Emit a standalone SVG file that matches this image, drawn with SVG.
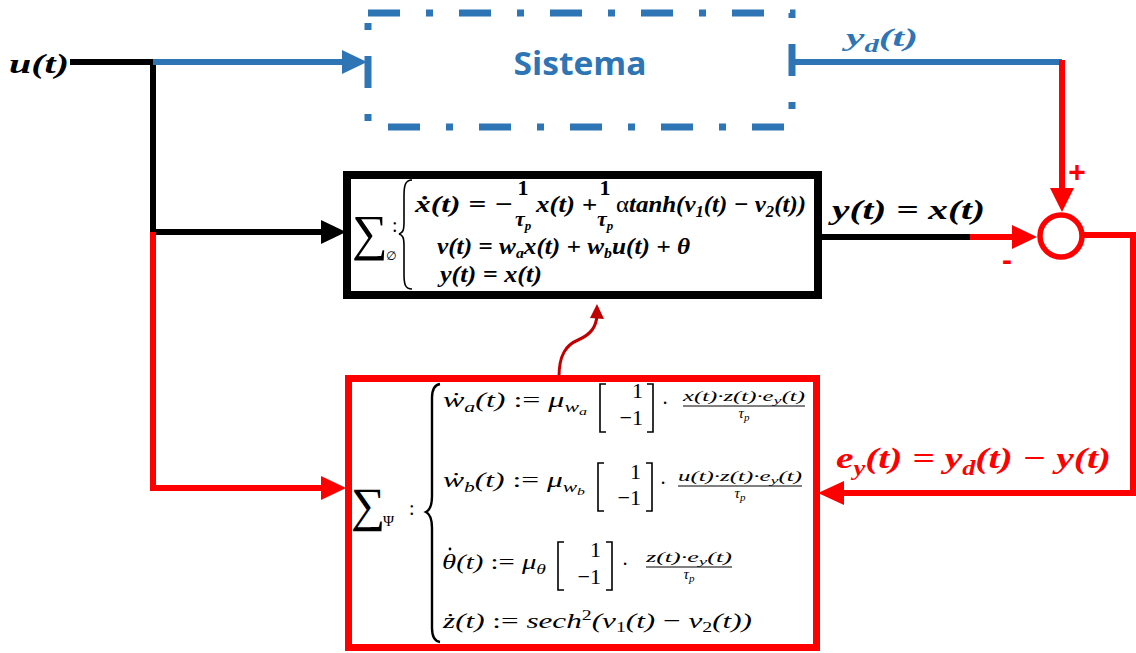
<svg xmlns="http://www.w3.org/2000/svg" width="1136" height="653" viewBox="0 0 1136 653">
<defs>
<style>
.bm{font-family:"Liberation Serif","DejaVu Serif",serif;font-weight:bold;font-style:italic;}
.lm{font-family:"Liberation Serif","DejaVu Serif",serif;font-style:italic;fill:#000;}
.up{font-style:normal;}
.num{font-family:"Liberation Serif","DejaVu Serif",serif;font-weight:bold;font-style:normal;}
.blk{stroke:#000;stroke-width:6;fill:none;}
.red{stroke:#FF0000;stroke-width:6;fill:none;}
.blu{stroke:#2E75B6;stroke-width:6;fill:none;}
.br{stroke:#000;fill:none;}
.sig{font-family:"Liberation Serif","DejaVu Serif",serif;font-style:normal;}
</style>
</defs>
<rect width="1136" height="653" fill="#fff"/>

<g id="connectors">
  <polyline class="blk" points="70,62 153,62 153,232 325,232"/>
  <polygon points="321,220 346,232 321,244" fill="#000"/>
  <line class="blu" x1="153" y1="62" x2="345" y2="62"/>
  <polygon points="342,50 367,62 342,74" fill="#2E75B6"/>
  <polyline class="red" points="153,232 153,488 325,488"/>
  <polygon points="321,476 346,488 321,500" fill="#FF0000"/>
  <line class="blu" x1="793" y1="62" x2="1062" y2="62"/>
  <polyline class="red" points="1062,60 1062,192"/>
  <polygon points="1050,188 1062,212 1074,188" fill="#FF0000"/>
  <line class="blk" x1="822" y1="237" x2="972" y2="237"/>
  <line class="red" x1="970" y1="237" x2="1016" y2="237"/>
  <polygon points="1012,225 1037,237 1012,249" fill="#FF0000"/>
  <polyline class="red" points="1083,235 1133,235 1133,493 842,493"/>
  <polygon points="844,481 818,493 844,505" fill="#FF0000"/>
  <path d="M559,377 C559,355 566,345 578,340 C592,334 596,326 597,316" stroke="#C00000" stroke-width="3" fill="none"/>
  <polygon points="597,304 590,318 604,319" fill="#C00000"/>
</g>

<g id="sistema">
  <rect x="368" y="13" width="424" height="114" fill="none" stroke="#2E75B6" stroke-width="7" stroke-dasharray="32 26 7 26"/>
  <text x="580" y="75" text-anchor="middle" font-family="'Open Sans','Liberation Sans',sans-serif" font-weight="bold" font-size="33" fill="#2E75B6" textLength="133" lengthAdjust="spacingAndGlyphs">Sistema</text>
</g>

<g id="sum">
  <circle cx="1061" cy="236" r="21" fill="#fff" stroke="#FF0000" stroke-width="5.5"/>
  <text x="1077" y="182" text-anchor="middle" font-family="'Liberation Sans',sans-serif" font-weight="bold" font-size="30" fill="#FF0000">+</text>
  <text x="1007" y="270" text-anchor="middle" font-family="'Liberation Sans',sans-serif" font-weight="bold" font-size="30" fill="#FF0000">-</text>
</g>

<g id="labels">
  <text class="bm" x="9" y="73" font-size="28" textLength="60" lengthAdjust="spacingAndGlyphs">u(t)</text>
  <text class="bm" x="846" y="46" font-size="26" fill="#2E75B6" textLength="72" lengthAdjust="spacingAndGlyphs">y<tspan dy="6" font-size="18">d</tspan><tspan dy="-6">(t)</tspan></text>
  <text class="bm" x="832" y="219" font-size="28" textLength="153" lengthAdjust="spacingAndGlyphs">y(t) = x(t)</text>
  <text class="bm" x="836" y="468" font-size="30" fill="#FF0000" textLength="275" lengthAdjust="spacingAndGlyphs">e<tspan dy="7" font-size="20">y</tspan><tspan dy="-7">(t) = y</tspan><tspan dy="7" font-size="20">d</tspan><tspan dy="-7">(t) − y(t)</tspan></text>
</g>

<g id="phi">
  <rect x="347" y="175" width="471" height="120" fill="none" stroke="#000" stroke-width="8"/>
  <text class="sig" x="352" y="250" font-size="50">∑</text>
  <text x="386" y="260" font-family="'DejaVu Sans',sans-serif" font-size="12">∅</text>
  <text class="sig" x="392" y="232" font-size="20">:</text>
  <path class="br" stroke-width="1.6" d="M412,180 C405,180 404,186 404,196 L404,222 C404,230 403,233 399,234 C403,235 404,238 404,246 L404,274 C404,284 405,289 412,289"/>
  <text class="bm" x="415" y="212" font-size="24" textLength="98" lengthAdjust="spacingAndGlyphs">ẋ(t) = −</text>
  <text class="num" x="523" y="195" font-size="22" text-anchor="middle">1</text>
  <text class="bm" x="515" y="226" font-size="22">τ<tspan dy="4" font-size="13">p</tspan></text>
  <text class="bm" x="536" y="212" font-size="24" textLength="61" lengthAdjust="spacingAndGlyphs">x(t) +</text>
  <text class="num" x="605" y="195" font-size="22" text-anchor="middle">1</text>
  <text class="bm" x="597" y="226" font-size="22">τ<tspan dy="4" font-size="13">p</tspan></text>
  <text class="bm" x="616" y="212" font-size="24" textLength="190" lengthAdjust="spacingAndGlyphs"><tspan font-weight="normal" style="font-style:normal">α</tspan>tanh(v<tspan dy="5" font-size="16">1</tspan><tspan dy="-5">(t) − v</tspan><tspan dy="5" font-size="16">2</tspan><tspan dy="-5">(t))</tspan></text>
  <text class="bm" x="437" y="254" font-size="24" textLength="253" lengthAdjust="spacingAndGlyphs">v(t) = w<tspan dy="4" font-size="15">a</tspan><tspan dy="-4">x(t) + w</tspan><tspan dy="4" font-size="15">b</tspan><tspan dy="-4">u(t) + θ</tspan></text>
  <text class="bm" x="440" y="282" font-size="24" textLength="102" lengthAdjust="spacingAndGlyphs">y(t) = x(t)</text>
</g>

<g id="psi">
  <rect x="348.5" y="378.5" width="468" height="269" fill="none" stroke="#FF0000" stroke-width="7"/>
  <text class="sig" x="351" y="521" font-size="48">∑</text>
  <text class="sig" x="383" y="526" font-size="15">Ψ</text>
  <text class="sig" x="409" y="515" font-size="20">:</text>
  <path class="br" stroke-width="2.4" d="M440,384 C434,385 432,390 432,398 L432,496 C432,505 430,510 426,512 C430,514 432,519 432,528 L432,628 C432,636 434,641 440,642"/>

  <text class="lm" x="443" y="407" font-size="22" textLength="144" lengthAdjust="spacingAndGlyphs">ẇ<tspan dy="5" font-size="15">a</tspan><tspan dy="-5">(t) <tspan class="up">:=</tspan> μ</tspan><tspan dy="5" font-size="15">w</tspan><tspan dy="3" font-size="11">a</tspan></text>
  <path class="br" stroke-width="1.6" d="M606,384 L600,384 L600,432 L606,432 M647,384 L653,384 L653,432 L647,432"/>
  <text class="lm up" x="643" y="398" font-size="22" text-anchor="end">1</text>
  <text class="lm up" x="643" y="425" font-size="22" text-anchor="end">−1</text>
  <text class="lm up" x="665" y="410" font-size="20" text-anchor="middle">·</text>
  <text class="lm" x="683" y="401" font-size="15" textLength="122" lengthAdjust="spacingAndGlyphs">x(t)·z(t)·e<tspan dy="3" font-size="11">y</tspan><tspan dy="-3">(t)</tspan></text>
  <line x1="683" y1="406" x2="805" y2="406" stroke="#000" stroke-width="1"/>
  <text class="lm" x="744" y="418" font-size="15" text-anchor="middle">τ<tspan dy="3" font-size="11">p</tspan></text>

  <text class="lm" x="443" y="487" font-size="22" textLength="142" lengthAdjust="spacingAndGlyphs">ẇ<tspan dy="5" font-size="15">b</tspan><tspan dy="-5">(t) <tspan class="up">:=</tspan> μ</tspan><tspan dy="5" font-size="15">w</tspan><tspan dy="3" font-size="11">b</tspan></text>
  <path class="br" stroke-width="1.6" d="M604,463 L598,463 L598,511 L604,511 M646,463 L652,463 L652,511 L646,511"/>
  <text class="lm up" x="641" y="479" font-size="22" text-anchor="end">1</text>
  <text class="lm up" x="641" y="505" font-size="22" text-anchor="end">−1</text>
  <text class="lm up" x="663" y="490" font-size="20" text-anchor="middle">·</text>
  <text class="lm" x="678" y="481" font-size="15" textLength="124" lengthAdjust="spacingAndGlyphs">u(t)·z(t)·e<tspan dy="3" font-size="11">y</tspan><tspan dy="-3">(t)</tspan></text>
  <line x1="678" y1="486" x2="802" y2="486" stroke="#000" stroke-width="1"/>
  <text class="lm" x="740" y="498" font-size="15" text-anchor="middle">τ<tspan dy="3" font-size="11">p</tspan></text>

  <text class="lm" x="442" y="569" font-size="22" textLength="104" lengthAdjust="spacingAndGlyphs">θ(t) <tspan class="up">:=</tspan> μ<tspan dy="5" font-size="15">θ</tspan></text>
  <circle cx="450" cy="549" r="1.4" fill="#000"/>
  <path class="br" stroke-width="1.6" d="M564,542 L558,542 L558,590 L564,590 M606,542 L612,542 L612,590 L606,590"/>
  <text class="lm up" x="601" y="557" font-size="22" text-anchor="end">1</text>
  <text class="lm up" x="601" y="584" font-size="22" text-anchor="end">−1</text>
  <text class="lm up" x="625" y="571" font-size="20" text-anchor="middle">·</text>
  <text class="lm" x="646" y="562" font-size="15" textLength="86" lengthAdjust="spacingAndGlyphs">z(t)·e<tspan dy="3" font-size="11">y</tspan><tspan dy="-3">(t)</tspan></text>
  <line x1="646" y1="567" x2="732" y2="567" stroke="#000" stroke-width="1"/>
  <text class="lm" x="689" y="579" font-size="15" text-anchor="middle">τ<tspan dy="3" font-size="11">p</tspan></text>

  <text class="lm" x="443" y="628" font-size="22" textLength="309" lengthAdjust="spacingAndGlyphs">ż(t) <tspan class="up">:=</tspan> sech<tspan dy="-8" font-size="14" class="up">2</tspan><tspan dy="8">(v</tspan><tspan dy="4" font-size="14" class="up">1</tspan><tspan dy="-4">(t) <tspan class="up">−</tspan> v</tspan><tspan dy="4" font-size="14" class="up">2</tspan><tspan dy="-4">(t))</tspan></text>
</g>
</svg>
